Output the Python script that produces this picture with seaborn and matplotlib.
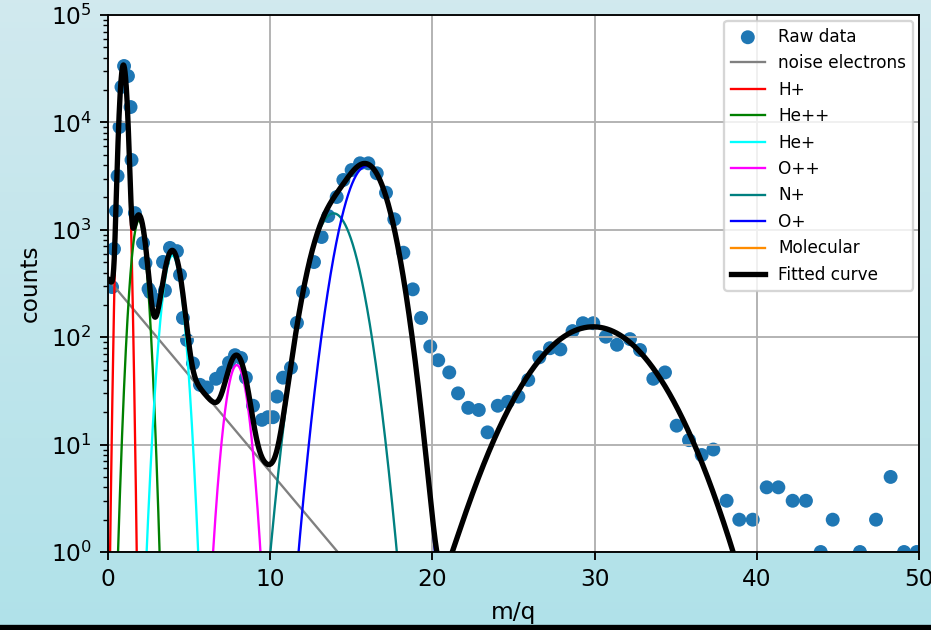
import numpy as np
import pandas as pd
import matplotlib
matplotlib.use("Agg")
import matplotlib.pyplot as plt
import seaborn as sns

# ---- raw data (m/q, counts) ----
mq = [0.25, 0.37, 0.49, 0.59, 0.71, 0.83, 0.99, 1.23, 1.39, 1.45, 1.66, 2.16, 2.31, 2.50,
      2.60, 2.97, 3.39, 3.51, 3.82, 4.25, 4.44, 4.62, 4.87, 5.24, 5.67, 6.10, 6.66, 7.09,
      7.46, 7.83, 8.20, 8.50, 8.94, 9.49, 9.86, 10.17, 10.42, 10.79, 11.28, 11.65, 12.02,
      12.70, 13.17, 13.58, 14.10, 14.51, 15.02, 15.54, 16.05, 16.57, 17.14, 17.65, 18.21,
      18.79, 19.30, 19.87, 20.36, 21.04, 21.58, 22.21, 22.86, 23.40, 24.03, 24.65, 25.30,
      25.91, 26.59, 27.25, 27.89, 28.64, 29.28, 29.92, 30.69, 31.38, 32.18, 32.80, 33.62,
      34.34, 35.06, 35.82, 36.60, 37.32, 38.14, 38.92, 39.75, 40.61, 41.33, 42.21, 43.03,
      43.94, 44.68, 46.36, 47.35, 48.25, 49.08, 49.86]
counts = [293, 663, 1500, 3170, 9060, 21400, 33500, 27000, 13900, 4470, 1430, 753, 490, 281,
          263, 222, 502, 272, 678, 633, 380, 151, 94, 57, 36, 34, 41, 47,
          58, 68, 64, 42, 23, 17, 18, 18, 28, 42, 52, 136, 264,
          501, 857, 1343, 2020, 2910, 3600, 4160, 4160, 3360, 2215, 1253, 612,
          279, 151, 82, 61, 47, 30, 22, 21, 13, 23, 25, 28,
          40, 65, 79, 77, 114, 135, 135, 101, 85, 96, 76, 41,
          47, 15, 11, 8, 9, 3, 2, 2, 4, 4, 3, 3,
          1, 2, 1, 2, 5, 1, 1]

# ---- fitted components ----
noise_amp = 348.0          # counts at m/q = 0
noise_decay = 2.42         # e-folding length in m/q
ion_names = ["H+", "He++", "He+", "O++", "N+", "O+", "Molecular"]
ion_colors = ["red", "green", "cyan", "magenta", "teal", "blue", "darkorange"]
ion_amp = [34000, 1220, 576, 55, 1423, 3930, 125]
ion_center = [0.95, 1.90, 3.97, 7.94, 13.91, 15.95, 29.91]
ion_sigma = [0.18, 0.34, 0.446, 0.516, 1.023, 1.033, 2.777]

DPI = 167
fig = plt.figure(figsize=(931 / DPI, 630 / DPI), dpi=DPI)

# background gradient
bg = fig.add_axes([0, 0, 1, 1], zorder=-10)
top = np.array([0.82, 0.915, 0.935])
bot = np.array([0.69, 0.885, 0.915])
t = np.linspace(0, 1, 256)[:, None, None]
grad = top * (1 - t) + bot * t
grad = np.repeat(grad, 4, axis=1)
bg.imshow(grad, aspect="auto", extent=[0, 1, 0, 1])
bg.add_patch(plt.Rectangle((0, 0), 1, 4 / 630, color="black", transform=bg.transAxes))
bg.set_axis_off()

ax = fig.add_axes([108 / 931, 1 - 552 / 630, (919 - 108) / 931, (552 - 15) / 630])

df = pd.DataFrame({"mq": mq, "counts": counts})
sns.scatterplot(data=df, x="mq", y="counts", ax=ax, color="#1f77b4", s=36,
                edgecolor="none", linewidth=0, label="Raw data", zorder=1)

xg = np.linspace(0, 50, 3000)
noise = noise_amp * np.exp(-xg / noise_decay)
sns.lineplot(x=xg, y=noise, ax=ax, color="gray", lw=1.0, label="noise electrons",
             estimator=None, sort=False)
total = noise.copy()
for name, col, a, m, s in zip(ion_names, ion_colors, ion_amp, ion_center, ion_sigma):
    comp = a * np.exp(-(xg - m) ** 2 / (2 * s ** 2))
    total += comp
    sns.lineplot(x=xg, y=comp, ax=ax, color=col, lw=1.0, label=name,
                 estimator=None, sort=False)
sns.lineplot(x=xg, y=total, ax=ax, color="black", lw=2.3, label="Fitted curve",
             estimator=None, sort=False)

ax.set_yscale("log")
ax.set_xlim(0, 50)
ax.set_ylim(1, 1e5)
ax.grid(True, which="major", color="#b0b0b0", lw=0.8)
ax.set_xlabel("m/q")
ax.set_ylabel("counts")
ax.legend(loc="upper right", fontsize=7.3, borderaxespad=0.35)

fig.savefig("out.png", dpi=DPI)
